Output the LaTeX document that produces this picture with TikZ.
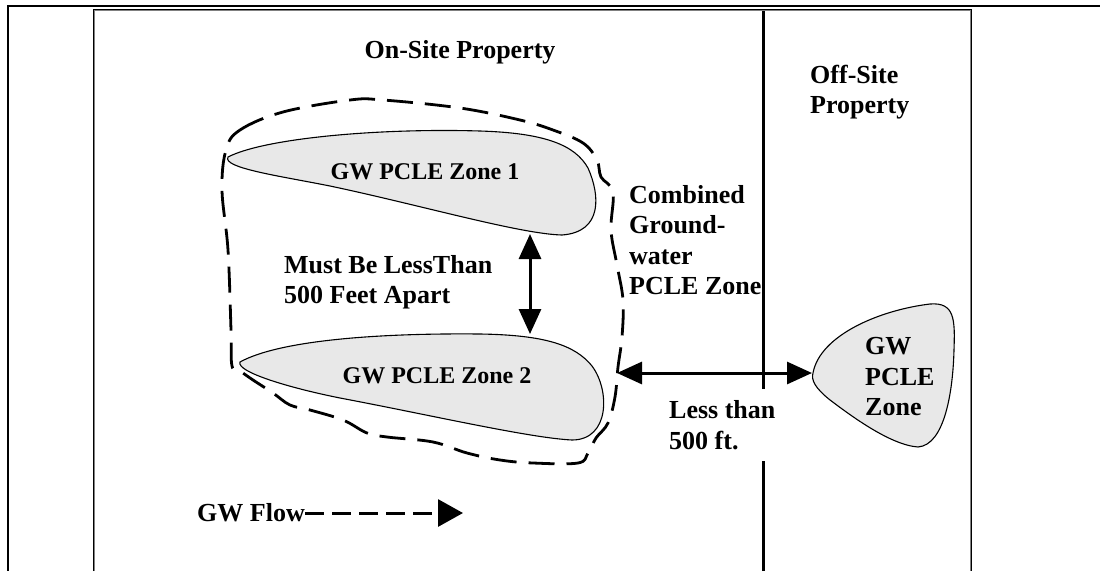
\documentclass[tikz,border=0pt]{standalone}
\usepackage{fontspec}
\setmainfont{Liberation Serif}
\usetikzlibrary{arrows.meta,calc}
\definecolor{blobgray}{RGB}{232,232,232}

\begin{document}
\begin{tikzpicture}[x=1pt,y=-1pt,
  txt/.style={font=\fontsize{26}{30.5}\selectfont\bfseries,align=left,inner sep=0pt},
  zonetxt/.style={font=\fontsize{24}{29}\selectfont\bfseries,inner sep=0pt},
  blob/.style={draw,line width=1.1pt,fill=blobgray},
  zoneline/.style={line width=2.8pt,dash pattern=on 26pt off 12pt},
  gap/.style={line width=3pt,{Triangle[length=25pt,width=22pt]}-{Triangle[length=25pt,width=22pt]}},
  flow/.style={line width=3pt,dash pattern=on 19pt off 8pt,-{Triangle[length=25pt,width=27pt]}}]

  \useasboundingbox (0,0) rectangle (1100,571);
  \draw[line width=2pt] (1100,6) -- (8,6) -- (8,571);
  \draw[gray,line width=1.2pt] (94.8,571) -- (94.8,10.8) -- (970.2,10.8) -- (970.2,571);
  \draw[line width=1.2pt] (93.6,571) -- (93.6,9.6) -- (971.4,9.6) -- (971.4,571);

  \draw[zoneline] plot[smooth cycle,tension=0.6] coordinates {
    (226,150) (240,130) (283,112) (350,100) (383,100) (460,108) (520,120)
    (553,130) (583,143) (597,160) (601,177) (613,192) (611,230) (617,265)
    (623,300) (622,337) (618,367) (615,397) (608,423) (596,438) (588,453)
    (578,463) (533,463) (500,460) (467,453) (433,442) (387,437) (367,433)
    (343,420) (310,410) (290,405) (273,393) (253,380) (240,371) (232,366)
    (231,330) (228,250) (222,190)};

  \draw[blob] (228,157) .. controls (265,138) and (380,128) .. (480,131)
    .. controls (545,133) and (575,145) .. (588,168)
    .. controls (600,195) and (603,232) .. (562,235)
    .. controls (520,234) and (420,205) .. (330,186)
    .. controls (280,176) and (222,168) .. cycle;
  \draw[blob] (240,362) .. controls (280,340) and (380,333) .. (480,334)
    .. controls (545,335) and (575,345) .. (592,366)
    .. controls (610,390) and (610,440) .. (572,440)
    .. controls (530,438) and (430,415) .. (340,398)
    .. controls (290,388) and (236,372) .. cycle;
  \draw[blob] (813,373) .. controls (820,335) and (880,310) .. (930,304)
    .. controls (955,302) and (955,320) .. (954,350)
    .. controls (953,390) and (945,445) .. (918,447)
    .. controls (890,445) and (850,415) .. (830,400)
    .. controls (815,388) and (811,380) .. cycle;

  \node[txt] (onsite) at (460,52) {On-Site Property};
  \node[txt,anchor=west] (offsite) at (810,92) {Off-Site\\Property};
  \node[zonetxt] (zone1) at (425,172) {GW PCLE Zone 1};
  \node[zonetxt] (zone2) at (437,376) {GW PCLE Zone 2};
  \node[txt,anchor=west] (apart) at (284,282) {Must Be LessThan\\500 Feet Apart};
  \node[txt,anchor=west] (combined) at (629,240) {Combined\\Ground-\\water\\PCLE Zone};
  \node[txt,anchor=west] (offzone) at (865,377) {GW\\PCLE\\Zone};
  \node[txt,anchor=west] (less) at (669,425) {Less than\\500 ft.};
  \node[txt,anchor=east] (flowlbl) at (305,513) {GW Flow};

  \coordinate (ptop) at (763,11);
  \coordinate (pbot) at (763,571);
  \coordinate (z1bot) at (530,234);
  \coordinate (z2top) at (530,334);
  \coordinate (outer) at (617,373);
  \coordinate (offtip) at (812,373);
  \coordinate (flowend) at (463,513);

  \draw[line width=3pt] (ptop) -- ($(ptop |- less.north)+(0,-11)$);
  \draw[line width=3pt] (pbot) -- ($(pbot |- less.south)+(0,11)$);
  \draw[gap] (z1bot) -- (z2top);
  \draw[gap] (outer) -- (offtip);
  \draw[flow] (flowlbl.east) -- (flowend);
\end{tikzpicture}
\end{document}
